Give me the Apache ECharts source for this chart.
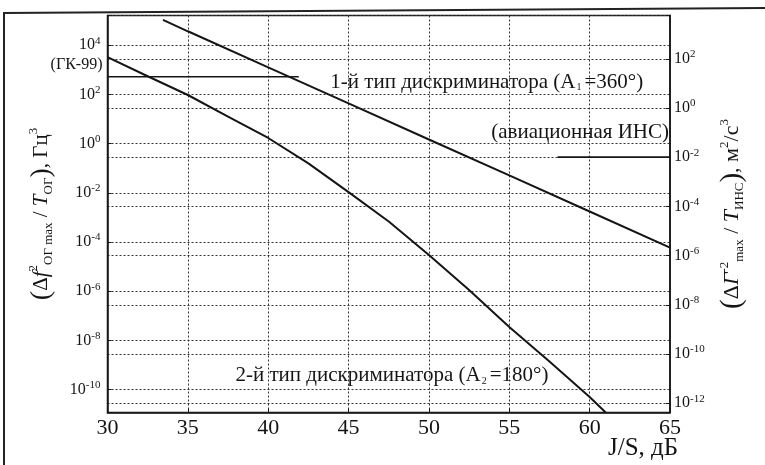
<!DOCTYPE html>
<html><head><meta charset="utf-8">
<script src="https://cdn.jsdelivr.net/npm/echarts@6/dist/echarts.min.js"></script>
<style>html,body{margin:0;padding:0;background:#fff}#c{width:765px;height:465px}</style>
</head><body><div id="c"></div>
<script>
// ---- data ----
const xTicks = [30, 35, 40, 45, 50, 55, 60, 65];            // J/S, dB
const type1X = [33.45, 35, 40, 45, 50, 55, 60, 65];
const type1Y = [1.07e5, 3.7e4, 1.26e3, 43.6, 1.48, 0.0513, 1.74e-3, 5.9e-5];   // left axis, Гц³
const type2X = [30, 32.5, 35, 37.5, 40, 42.5, 45, 47.5, 50, 52.5, 55, 57.5, 60, 61.0];
const type2Y = [3.3e3, 550, 95, 12.6, 1.7, 0.158, 0.0107, 6.8e-4, 2.95e-5, 1.12e-6, 3.55e-8, 1.38e-9, 5.0e-11, 1.17e-11];
const gkX = [30, 41.9];          // (ГК-99) level, left axis
const gkY = [520, 520];
const insX = [58, 65];           // (авиационная ИНС) level, right axis
const insY = [1e-2, 1e-2];
const annTexts = ['(ГК-99)', '1-й тип дискриминатора (A{s|1}=360°)', '(авиационная ИНС)', '2-й тип дискриминатора (A{s|2}=180°)'];
const annX = [30, 43.8, 65, 37.9];
const annY = [1.6e3, 320, 2.95, 3.6e-10];

const F = 'Liberation Serif';
const INK = '#151515';
const lg = Math.log10;
const pairs = (xs, ys) => xs.map((x, i) => [x, lg(ys[i])]);

const supLabel = v => {
  if (Math.abs(v - Math.round(v)) > 1e-6) return '';
  const e = Math.round(v);
  if (e % 2 !== 0) return '';
  return '{b|10}{s|' + e + '}';
};
const labRich = {
  b: {fontSize: 16, fontFamily: F, color: INK, lineHeight: 20},
  s: {fontSize: 11, fontFamily: F, color: INK, lineHeight: 8, verticalAlign: 'top'}
};
const mkNameRich = (fs) => ({
  n: {fontSize: fs, fontFamily: F, color: INK, lineHeight: 28},
  i: {fontSize: fs, fontFamily: F, fontStyle: 'italic', color: INK, lineHeight: 28},
  p: {fontSize: fs + 7, fontFamily: F, color: INK, lineHeight: 28},
  sup: {fontSize: 13, fontFamily: F, color: INK, lineHeight: 12, verticalAlign: 'top'},
  sub: {fontSize: 13, fontFamily: F, color: INK, lineHeight: 12, verticalAlign: 'bottom'}
});
const dotted = {show: true, lineStyle: {type: [2, 2], color: '#333', width: 1}};

const chart = echarts.init(document.getElementById('c'), null, {renderer: 'canvas'});
chart.setOption({
  backgroundColor: '#fff',
  animation: false,
  grid: {left: 107.5, right: 95, top: 15.5, bottom: 52.5, show: true, borderColor: INK, borderWidth: 1.5, backgroundColor: 'transparent'},
  graphic: [
    {type: 'line', shape: {x1: 3, y1: 13, x2: 765, y2: 8}, style: {stroke: '#222', lineWidth: 2}},
    {type: 'line', shape: {x1: 4, y1: 13, x2: 4, y2: 465}, style: {stroke: '#222', lineWidth: 2}}
  ],
  xAxis: {
    type: 'value', min: xTicks[0], max: xTicks[xTicks.length - 1], interval: 5,
    axisLine: {show: true, onZero: false, lineStyle: {color: INK, width: 1.5}},
    axisTick: {show: true, inside: true, length: 4, lineStyle: {color: INK}},
    splitLine: dotted,
    axisLabel: {fontSize: 22, fontFamily: F, color: INK, margin: 5},
    name: 'J/S, дБ', nameLocation: 'end', nameGap: -62, nameMoveOverlap: false,
    nameTextStyle: {fontSize: 25, fontFamily: F, color: INK, align: 'left', verticalAlign: 'top', padding: [23, 0, 0, 0]}
  },
  yAxis: [
    {
      type: 'value', min: -10.93, max: 5.21, minInterval: 2, maxInterval: 2,
      axisLine: {show: true, onZero: false, lineStyle: {color: INK, width: 1.5}},
      axisTick: {show: true, inside: true, length: 4, lineStyle: {color: INK}},
      splitLine: dotted,
      axisLabel: {formatter: supLabel, rich: labRich, margin: 7},
      name: '{p|(}{n|Δ}{i|f}{sup|2}{sub|ОГ max}{n| / }{i|T}{sub|ОГ}{p|)}{n|, Гц}{sup|3}',
      nameLocation: 'middle', nameRotate: 90, nameGap: 52,
      nameTextStyle: {rich: mkNameRich(21)}
    },
    {
      type: 'value', position: 'right', min: -12.38, max: 3.76, minInterval: 2, maxInterval: 2,
      axisLine: {show: true, onZero: false, lineStyle: {color: INK, width: 1.5}},
      axisTick: {show: true, inside: true, length: 4, lineStyle: {color: INK}},
      splitLine: dotted,
      axisLabel: {formatter: supLabel, rich: labRich, margin: 4},
      name: '{p|(}{n|Δ}{i|Γ}{sup|-2}{sub|max}{n| / }{i|T}{sub|ИНС}{p|)}{n|, м}{sup|2}{n|/с}{sup|3}',
      nameLocation: 'middle', nameRotate: 90, nameGap: 48,
      nameTextStyle: {rich: mkNameRich(22)}
    }
  ],
  series: [
    {type: 'line', name: 'type1', data: pairs(type1X, type1Y), showSymbol: false, symbol: 'none',
     lineStyle: {color: INK, width: 2}, yAxisIndex: 0},
    {type: 'line', name: 'type2', data: pairs(type2X, type2Y), showSymbol: false, symbol: 'none',
     lineStyle: {color: INK, width: 2, join: 'round'}, yAxisIndex: 0},
    {type: 'line', name: 'gk', data: pairs(gkX, gkY), showSymbol: false, symbol: 'none',
     lineStyle: {color: INK, width: 1.5}, yAxisIndex: 0},
    {type: 'line', name: 'ins', data: pairs(insX, insY), showSymbol: false, symbol: 'none',
     lineStyle: {color: INK, width: 1.8}, yAxisIndex: 1},
    {type: 'scatter', name: 'ann', symbolSize: 0, clip: false, yAxisIndex: 0, silent: true,
     itemStyle: {opacity: 1},
     data: annTexts.map((t, i) => ({
       value: [annX[i], lg(annY[i])],
       label: {
         show: true, formatter: t,
         position: (i === 0 || i === 2) ? 'left' : 'right',
         distance: i === 0 ? 5 : 1,
         fontSize: i === 0 ? 16 : 21, fontFamily: F, color: INK,
         textBorderWidth: 0,
         rich: {s: {fontSize: 10, fontFamily: F, color: INK, lineHeight: 9, verticalAlign: 'bottom', textBorderWidth: 0, padding: [0, 3, 0, 1]}}
       }
     }))}
  ]
});
</script></body></html>
